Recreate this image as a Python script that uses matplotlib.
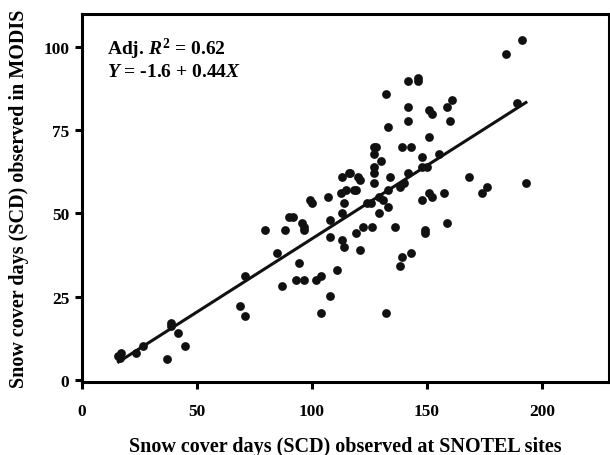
import numpy as np
import matplotlib.pyplot as plt

# SCD at SNOTEL sites (x) vs SCD observed in MODIS (y)
scd_snotel = [191.4, 184.2, 189.0, 193.0, 174.1, 176.3, 168.2, 161.0, 158.8, 160.2,
              158.8, 157.2, 155.1, 151.1, 152.1, 151.1, 150.0, 148.0, 148.0, 151.1,
              152.1, 148.0, 149.2, 149.2, 146.1, 146.1, 141.9, 141.9, 141.9, 143.1,
              139.0, 141.9, 140.2, 138.2, 143.1, 139.0, 138.2, 136.2, 132.3, 133.1,
              130.2, 127.0, 127.0, 127.0, 127.0, 127.0, 134.0, 133.1, 129.2, 133.1,
              129.2, 126.2, 132.3, 124.1, 122.0, 121.1, 120.2, 119.1, 121.1, 116.2,
              113.1, 118.1, 114.8, 114.0, 113.1, 113.1, 114.0, 111.1, 108.0, 108.0,
              106.9, 99.2, 100.1, 96.7, 96.7, 95.9, 91.6, 96.7, 93.3, 94.2,
              104.0, 101.8, 108.0, 104.0, 88.1, 79.8, 84.7, 87.2, 70.8, 68.8,
              70.8, 38.6, 38.6, 42.0, 44.9, 36.9, 26.8, 23.7, 16.9, 15.7,
              16.6, 90.0, 116.5, 119.0, 125.5, 127.8, 131.0, 112.5]
scd_modis = [102.1, 98.0, 83.2, 59.1, 56.0, 57.9, 61.0, 84.2, 82.0, 77.9,
             47.0, 56.0, 67.9, 81.2, 80.0, 73.0, 64.1, 66.9, 64.1, 56.0,
             55.0, 54.0, 45.0, 44.0, 90.8, 89.8, 89.8, 81.9, 77.9, 69.9,
             69.9, 62.0, 59.0, 58.0, 38.0, 37.0, 34.1, 46.0, 85.9, 75.9,
             65.9, 69.9, 67.9, 63.9, 62.0, 59.0, 61.0, 57.0, 55.0, 52.0,
             50.0, 46.0, 20.1, 53.0, 46.0, 60.0, 61.0, 44.0, 39.0, 62.0,
             61.0, 57.0, 57.0, 53.0, 50.0, 42.0, 40.0, 33.1, 48.0, 43.0,
             55.0, 54.0, 53.0, 46.0, 45.0, 47.0, 49.0, 30.1, 30.1, 35.1,
             31.1, 30.1, 25.1, 20.1, 45.0, 45.0, 38.0, 28.1, 31.1, 22.1,
             19.1, 17.1, 16.1, 14.1, 10.2, 6.2, 10.2, 8.2, 8.2, 7.2,
             6.7, 49.0, 62.0, 57.0, 53.0, 70.0, 54.0, 56.0]

intercept, slope = -1.6, 0.44
line_x = [16, 193]

plt.rcParams['font.family'] = ['Liberation Serif', 'DejaVu Serif']
plt.rcParams['font.weight'] = 'bold'
plt.rcParams['mathtext.fontset'] = 'custom'
plt.rcParams['mathtext.rm'] = 'Liberation Serif:bold'
plt.rcParams['mathtext.it'] = 'Liberation Serif:italic:bold'
plt.rcParams['mathtext.bf'] = 'Liberation Serif:bold'

fig = plt.figure(figsize=(6.1, 4.56), dpi=100)
ax = fig.add_axes([0.134, 0.16, 0.864, 0.808])

ax.scatter(scd_snotel, scd_modis, s=40, color='#111111', zorder=3, linewidths=0)
lx = np.array(line_x)
ax.plot(lx, intercept + slope * lx, color='#111111', lw=2.2, zorder=2)

ax.set_xlim(0, 229)
ax.set_ylim(-0.6, 110)
ax.set_xticks([0, 50, 100, 150, 200])
ax.set_yticks([0, 25, 50, 75, 100])
for s in ax.spines.values():
    s.set_linewidth(2.2)
ax.tick_params(axis='both', direction='out', length=5, width=2.2, labelsize=12.5)
ax.tick_params(axis='x', pad=10)
ax.tick_params(axis='y', pad=4)
for lab in ax.get_xticklabels() + ax.get_yticklabels():
    lab.set_fontweight('bold')

ax.set_xlabel('Snow cover days (SCD) observed at SNOTEL sites', fontsize=14.5,
              fontweight='bold', labelpad=12)
ax.set_ylabel('Snow cover days (SCD) observed in MODIS', fontsize=14.5,
              fontweight='bold', labelpad=10)

ax.text(0.047, 0.94, r'Adj. $R^2$ = 0.62', transform=ax.transAxes,
        fontsize=14, fontweight='bold', va='top')
ax.text(0.047, 0.865, r'$Y$ = -1.6 + 0.44$X$', transform=ax.transAxes,
        fontsize=14, fontweight='bold', va='top')

fig.savefig('out.png', dpi=100)
